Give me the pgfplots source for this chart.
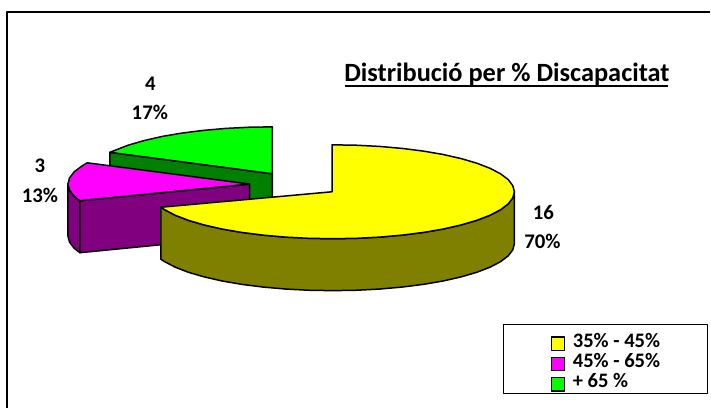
\documentclass[border=0pt]{standalone}
\usepackage{pgfplots}
\pgfplotsset{compat=1.18}
\usepackage{fontspec}
\setmainfont{Carlito}
\definecolor{cYellow}{HTML}{FFFF00}
\definecolor{cOlive}{HTML}{808000}
\definecolor{cMagenta}{HTML}{FF00FF}
\definecolor{cPurple}{HTML}{800080}
\definecolor{cLime}{HTML}{00FF00}
\definecolor{cGreen}{HTML}{008000}
\begin{document}
\begin{tikzpicture}
\begin{axis}[
  at={(0,0)},anchor=south west,
  scale only axis,width=711pt,height=408pt,
  xmin=0,xmax=711,ymin=0,ymax=408,y dir=reverse,
  hide axis,clip=false,no markers,
  legend image code/.code={\draw[#1,line width=1.3pt] (0pt,-6.7pt) rectangle (13.5pt,6.7pt);},
  legend cell align=left,
  legend style={at={(axis cs:504,329.5)},anchor=north west,draw=none,fill=none,
    inner xsep=47pt,inner ysep=5.6pt,row sep=2.8pt,column sep=7.5pt,
    nodes={font=\bfseries\fontsize{20.6}{20.6}\selectfont,inner sep=0pt,text height=12.5pt,text depth=5pt}},
  every axis plot/.append style={line width=1.5pt,line join=round},
]
% frame
\addplot[black,line width=1.7pt,forget plot] coordinates {(7.3,408)(7.3,11.7)(711,11.7)};
% legend box
\addplot[black,line width=1.3pt,forget plot] coordinates {(504,325)(708.3,325)(708.3,394.3)(504,394.3)} -- cycle;
% green slice
\addplot[fill=cGreen,draw=black,forget plot] coordinates {(110,152.5)(272.7,174)(272.7,226)(110,204.5)} -- cycle;
\addplot[fill=cLime,draw=black,forget plot] coordinates {(272.7,174)(272.7,127)(248.9,127.4)(225.6,128.6)(203,130.6)(181.7,133.3)(161.9,136.7)(144,140.8)(128.3,145.4)(115.1,150.5)(110,152.5)} -- cycle;
% magenta slice
\addplot[fill=cPurple,draw=black,forget plot] coordinates {(68,184.3)(69.6,190.4)(74.2,196.5)(80,201)(80,253)(74.2,248.5)(69.6,242.4)(68,236.3)} -- cycle;
\addplot[fill=cPurple,draw=black,forget plot] coordinates {(80,201)(250,184.3)(250,236.3)(80,253)} -- cycle;
\addplot[fill=cMagenta,draw=black,forget plot] coordinates {(250,184.3)(87.3,163)(81.9,166.3)(74.2,172.1)(69.6,178.2)(68,184.3)(69.6,190.4)(74.2,196.5)(80,201)} -- cycle;
% yellow slice
\addplot[fill=cOlive,draw=black,forget plot] coordinates {(515,192)(513.4,198.1)(508.8,204.2)(501.1,210)(490.6,215.5)(477.4,220.6)(461.7,225.2)(443.8,229.3)(424,232.7)(402.7,235.4)(380.1,237.4)(356.8,238.6)(333,239)(309.2,238.6)(285.9,237.4)(263.3,235.4)(242,232.7)(222.2,229.3)(204.3,225.2)(188.6,220.6)(175.4,215.5)(164.9,210)(161,207.5)(161,259.5)(164.9,262)(175.4,267.5)(188.6,272.6)(204.3,277.2)(222.2,281.3)(242,284.7)(263.3,287.4)(285.9,289.4)(309.2,290.6)(333,291)(356.8,290.6)(380.1,289.4)(402.7,287.4)(424,284.7)(443.8,281.3)(461.7,277.2)(477.4,272.6)(490.6,267.5)(501.1,262)(508.8,256.2)(513.4,250.1)(515,244)} -- cycle;
\addplot[fill=cYellow,draw=black,forget plot] coordinates {(332.5,192)(332.5,145)(356.8,145.4)(380.1,146.6)(402.7,148.6)(424,151.3)(443.8,154.7)(461.7,158.8)(477.4,163.4)(490.6,168.5)(501.1,174)(508.8,179.8)(513.4,185.9)(515,192)(513.4,198.1)(508.8,204.2)(501.1,210)(490.6,215.5)(477.4,220.6)(461.7,225.2)(443.8,229.3)(424,232.7)(402.7,235.4)(380.1,237.4)(356.8,238.6)(333,239)(309.2,238.6)(285.9,237.4)(263.3,235.4)(242,232.7)(222.2,229.3)(204.3,225.2)(188.6,220.6)(175.4,215.5)(164.9,210)(161,207.5)} -- cycle;
% legend
\addlegendimage{fill=cYellow,draw=black}\addlegendentry{35\% - 45\%}
\addlegendimage{fill=cMagenta,draw=black}\addlegendentry{45\% - 65\%}
\addlegendimage{fill=cLime,draw=black}\addlegendentry{+ 65 \%}
% title
\node[anchor=base,font=\bfseries\fontsize{26.4}{26.4}\selectfont,inner sep=0pt] at (axis cs:507.5,81.5) {Distribució per \% Discapacitat};
\draw[black,line width=2pt] (axis cs:345.5,85.7) -- (axis cs:669,85.7);
% labels
\tikzset{lab/.style={font=\bfseries\fontsize{20.8}{20.8}\selectfont,inner sep=0pt,anchor=base}}
\node[lab] at (axis cs:150.5,91) {4};
\node[lab] at (axis cs:150,120) {17\%};
\node[lab] at (axis cs:40,173) {3};
\node[lab] at (axis cs:40,203) {13\%};
\node[lab] at (axis cs:544,220) {16};
\node[lab] at (axis cs:543,249) {70\%};
\end{axis}
\path[use as bounding box] (0,0) rectangle (711pt,408pt);
\end{tikzpicture}
\end{document}
